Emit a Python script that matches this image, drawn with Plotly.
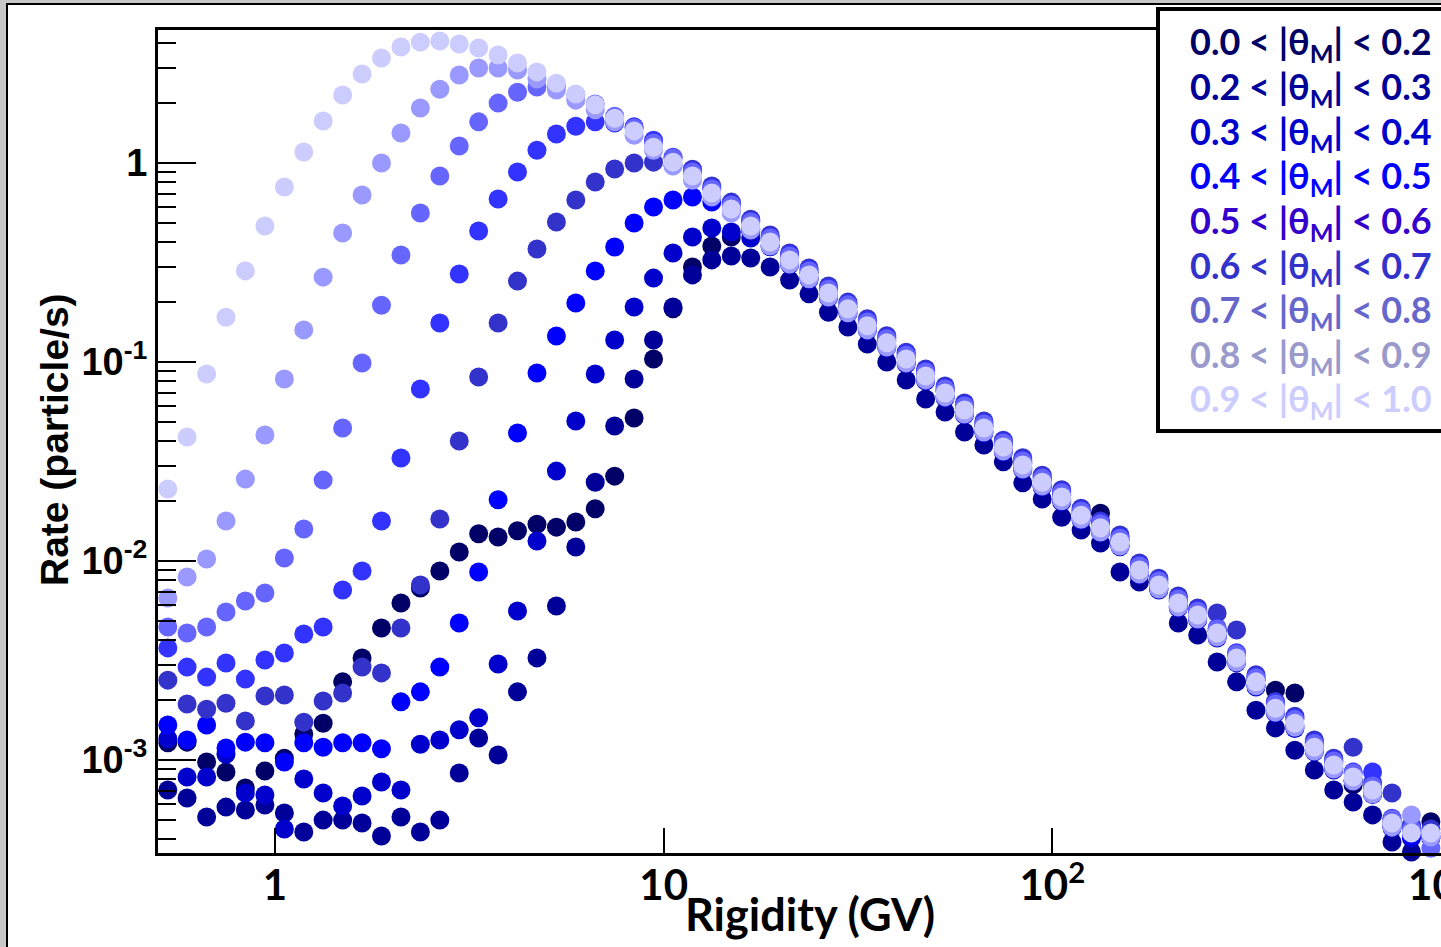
import numpy as np
import plotly.graph_objects as go

# rigidity bin centres (GV)
rigidity = [0.530, 0.594, 0.667, 0.748, 0.839, 0.942, 1.057, 1.186, 1.330, 1.493,
            1.675, 1.879, 2.109, 2.366, 2.655, 2.979, 3.342, 3.750, 4.207, 4.721,
            5.297, 5.942, 6.667, 7.480, 8.393, 9.417, 10.57, 11.86, 13.30, 14.93,
            16.75, 18.79, 21.09, 23.66, 26.55, 29.79, 33.42, 37.50, 42.07, 47.21,
            52.97, 59.42, 66.67, 74.80, 83.93, 94.17, 105.7, 118.6, 133.0, 149.3,
            167.5, 187.9, 210.9, 236.6, 265.5, 297.9, 334.2, 375.0, 420.7, 472.1,
            529.7, 594.2, 666.7, 748.0, 839.3, 941.7]

# rates (particle/s) per |theta_M| band
rate_00_02 = [0.00122, 0.00123, 0.000977, 0.00087, 0.000723, 0.00088, 0.00102, 0.00135, 0.00153, 0.00247,
              0.00326, 0.00461, 0.00615, 0.00731, 0.00891, 0.0111, 0.0137, 0.0132, 0.0142, 0.0153,
              0.0148, 0.0157, 0.0183, 0.0267, 0.0523, 0.1035, 0.185, 0.30, 0.383, 0.425,
              0.45, 0.41, 0.333, 0.28, 0.226, 0.189, 0.155, 0.1275, 0.1055, 0.0868,
              0.0713, 0.0585, 0.0475, 0.0381, 0.031, 0.0254, 0.0214, 0.0173, 0.0174, 0.0127,
              0.0092, 0.0077, 0.00627, 0.00546, 0.00444, 0.00333, 0.00252, 0.00224, 0.00217, 0.00118,
              0.00096, 0.00075, 0.00072, 0.00049, 0.00044, 0.00049]
rate_02_03 = [0.000707, 0.000644, 0.000517, 0.00058, 0.000561, 0.000594, 0.000542, 0.000435, 0.000499, 0.000499,
              0.000482, 0.000415, 0.000517, 0.000435, 0.000499, 0.000861, 0.00129, 0.00106, 0.0022, 0.00326,
              0.00594, 0.01175, 0.0249, 0.0477, 0.0822, 0.129, 0.189, 0.274, 0.326, 0.341,
              0.333, 0.30, 0.258, 0.22, 0.178, 0.15, 0.123, 0.10, 0.0812, 0.0652,
              0.0561, 0.0445, 0.0383, 0.0315, 0.0247, 0.0205, 0.0166, 0.0143, 0.0123, 0.00881,
              0.00784, 0.00723, 0.00488, 0.00425, 0.00311, 0.00247, 0.00178, 0.00145, 0.00112, 0.00089,
              0.000707, 0.000615, 0.00053, 0.000387, 0.000345, 0.000322]
rate_03_04 = [0.00128, 0.000822, 0.000822, 0.00107, 0.000683, 0.000667, 0.00045, 0.000803, 0.000683, 0.000587,
              0.000659, 0.000775, 0.000707, 0.0012, 0.00126, 0.00142, 0.00163, 0.00304, 0.00561, 0.0126,
              0.0283, 0.0505, 0.0871, 0.129, 0.189, 0.264, 0.353, 0.425, 0.471, 0.45,
              0.42, 0.379, 0.308, 0.259, 0.21, 0.175, 0.1435, 0.118, 0.0977, 0.0803,
              0.066, 0.0542, 0.044, 0.0353, 0.0287, 0.0235, 0.0198, 0.016, 0.0139, 0.0118,
              0.0085, 0.00715, 0.0058, 0.00505, 0.0041, 0.00308, 0.00233, 0.00172, 0.00144, 0.0011,
              0.00089, 0.00078, 0.00067, 0.000455, 0.000405, 0.000405]
rate_04_05 = [0.0015, 0.00126, 0.0015, 0.00115, 0.00123, 0.00122, 0.000977, 0.00122, 0.00116, 0.00122,
              0.00122, 0.00114, 0.00196, 0.0022, 0.00293, 0.00488, 0.00881, 0.0203, 0.044, 0.0881,
              0.135, 0.198, 0.287, 0.378, 0.50, 0.601, 0.652, 0.675, 0.637, 0.58,
              0.465, 0.387, 0.315, 0.264, 0.214, 0.179, 0.147, 0.121, 0.10, 0.0821,
              0.0675, 0.0554, 0.045, 0.0361, 0.0293, 0.024, 0.0203, 0.0164, 0.0142, 0.012,
              0.0087, 0.0073, 0.00593, 0.00516, 0.0042, 0.00315, 0.00238, 0.00176, 0.00148, 0.00112,
              0.00091, 0.00079, 0.00068, 0.000465, 0.000415, 0.000415]
rate_05_06 = [0.00252, 0.00191, 0.0018, 0.00193, 0.00157, 0.0021, 0.00212, 0.00155, 0.00198, 0.00217,
              0.00293, 0.00274, 0.00461, 0.00757, 0.01626, 0.0401, 0.0841, 0.157, 0.255, 0.370,
              0.505, 0.652, 0.803, 0.933, 1.00, 1.01, 0.977, 0.93, 0.766, 0.636,
              0.522, 0.435, 0.353, 0.297, 0.241, 0.20, 0.165, 0.1355, 0.112, 0.0922,
              0.0758, 0.0622, 0.0505, 0.0405, 0.033, 0.027, 0.0228, 0.0184, 0.0159, 0.0135,
              0.00977, 0.0082, 0.00667, 0.0058, 0.00548, 0.0045, 0.00268, 0.00197, 0.00166, 0.00126,
              0.00102, 0.00116, 0.00077, 0.000683, 0.00047, 0.00045]
rate_06_07 = [0.00366, 0.00293, 0.00261, 0.00307, 0.00255, 0.00318, 0.00345, 0.0043, 0.00466, 0.00715,
              0.00891, 0.01589, 0.0329, 0.0732, 0.157, 0.277, 0.455, 0.659, 0.901, 1.16,
              1.40, 1.53, 1.61, 1.59, 1.52, 1.30, 1.07, 0.91, 0.75, 0.62,
              0.51, 0.425, 0.346, 0.29, 0.235, 0.196, 0.161, 0.1325, 0.11, 0.09,
              0.074, 0.0608, 0.0494, 0.0396, 0.0322, 0.0264, 0.0223, 0.018, 0.0156, 0.0132,
              0.00955, 0.008, 0.0065, 0.00567, 0.00461, 0.00346, 0.00262, 0.00193, 0.00162, 0.00123,
              0.0010, 0.00087, 0.00087, 0.00051, 0.00046, 0.00043]
rate_07_08 = [0.00466, 0.00435, 0.00466, 0.00554, 0.00629, 0.0069, 0.01035, 0.01449, 0.0255, 0.0466,
              0.0989, 0.193, 0.345, 0.561, 0.86, 1.217, 1.61, 2.00, 2.27, 2.41,
              2.44, 2.20, 1.98, 1.72, 1.50, 1.26, 1.06, 0.90, 0.74, 0.615,
              0.505, 0.42, 0.341, 0.287, 0.232, 0.194, 0.159, 0.131, 0.108, 0.0891,
              0.0732, 0.0601, 0.0488, 0.0392, 0.0318, 0.0261, 0.022, 0.0178, 0.0154, 0.013,
              0.00943, 0.00793, 0.00644, 0.0056, 0.00455, 0.00341, 0.00259, 0.00191, 0.0016, 0.00121,
              0.00099, 0.00086, 0.00074, 0.000505, 0.00045, 0.00036]
rate_08_09 = [0.00652, 0.00831, 0.01023, 0.01589, 0.0258, 0.043, 0.0822, 0.145, 0.267, 0.445,
              0.69, 1.00, 1.415, 1.89, 2.35, 2.77, 3.00, 3.00, 2.93, 2.64,
              2.33, 2.07, 1.85, 1.61, 1.38, 1.16, 0.965, 0.82, 0.675, 0.56,
              0.46, 0.383, 0.311, 0.262, 0.212, 0.177, 0.145, 0.119, 0.099, 0.0813,
              0.0668, 0.0548, 0.0445, 0.0357, 0.029, 0.0238, 0.0201, 0.0162, 0.014, 0.0119,
              0.0086, 0.00723, 0.00587, 0.00511, 0.00415, 0.00311, 0.00236, 0.00174, 0.00146, 0.00111,
              0.0009, 0.000785, 0.000675, 0.00046, 0.00053, 0.00041]
rate_09_10 = [0.023, 0.042, 0.0871, 0.168, 0.287, 0.482, 0.757, 1.136, 1.626, 2.196,
              2.80, 3.37, 3.83, 4.05, 4.10, 3.96, 3.78, 3.49, 3.18, 2.87,
              2.52, 2.22, 1.96, 1.68, 1.45, 1.20, 1.01, 0.86, 0.707, 0.587,
              0.482, 0.401, 0.326, 0.274, 0.222, 0.185, 0.152, 0.125, 0.1035, 0.0851,
              0.0699, 0.0574, 0.0466, 0.0374, 0.0304, 0.0249, 0.021, 0.017, 0.0147, 0.01245,
              0.00901, 0.00757, 0.00615, 0.00535, 0.00435, 0.00326, 0.00247, 0.00182, 0.00153, 0.00116,
              0.000944, 0.000822, 0.000707, 0.000482, 0.00043, 0.00043]

band_labels = ["0.0 &lt; |θ<sub>M</sub>| &lt; 0.2", "0.2 &lt; |θ<sub>M</sub>| &lt; 0.3",
               "0.3 &lt; |θ<sub>M</sub>| &lt; 0.4", "0.4 &lt; |θ<sub>M</sub>| &lt; 0.5",
               "0.5 &lt; |θ<sub>M</sub>| &lt; 0.6", "0.6 &lt; |θ<sub>M</sub>| &lt; 0.7",
               "0.7 &lt; |θ<sub>M</sub>| &lt; 0.8", "0.8 &lt; |θ<sub>M</sub>| &lt; 0.9",
               "0.9 &lt; |θ<sub>M</sub>| &lt; 1.0"]
band_rates = [rate_00_02, rate_02_03, rate_03_04, rate_04_05, rate_05_06,
              rate_06_07, rate_07_08, rate_08_09, rate_09_10]
marker_colors = ["#000066", "#000099", "#0000cc", "#0000ff", "#3333cc",
                 "#3333ff", "#6666ff", "#9999ff", "#ccccff"]
label_colors = ["#000066", "#000099", "#0000cc", "#0000ff", "#3300cc",
                "#3333cc", "#6666cc", "#9999cc", "#ccccff"]

x_tickvals = [1, 10, 100, 1000]
x_ticktext = ["1", "10", "10<sup>2</sup>", "10<sup>3</sup>"]
y_tickvals = [1e-3, 1e-2, 1e-1, 1]
y_ticktext = ["10<sup>-3</sup>", "10<sup>-2</sup>", "10<sup>-1</sup>", "1"]
y_minor = [m * 10.0 ** e for e in range(-4, 1) for m in range(2, 10)]

W, H = 1441, 947
L, R, T, B = 158, 1441, 30, 853


def px(x):
    return (x - L) / (R - L)


def py(y):
    return (B - y) / (B - T)


fig = go.Figure()
for rates, col in zip(band_rates, marker_colors):
    fig.add_trace(go.Scatter(x=rigidity, y=rates, mode="markers",
                             marker=dict(color=col, size=19, line=dict(width=0)),
                             cliponaxis=False, showlegend=False))

shapes = [
    dict(type="rect", xref="paper", yref="paper", x0=px(7), x1=1.05, y0=py(960), y1=py(4),
         fillcolor="white", line=dict(color="black", width=2), layer="below"),
    dict(type="rect", xref="paper", yref="paper", x0=px(1158), x1=1.05, y0=py(431), y1=py(9),
         fillcolor="white", line=dict(color="black", width=4), layer="above"),
]

annotations = []
for i, (txt, col) in enumerate(zip(band_labels, label_colors)):
    annotations.append(dict(xref="paper", yref="paper", x=px(1188), y=py(44 + 44.6 * i),
                            xanchor="left", yanchor="middle", showarrow=False, text=txt,
                            font=dict(family="Lato", size=36, color=col, weight="bold")))
annotations.append(dict(xref="paper", yref="paper", x=px(810), y=py(914), showarrow=False,
                        text="Rigidity (GV)", xanchor="center", yanchor="middle",
                        font=dict(family="Lato", size=45, color="black", weight="bold")))
annotations.append(dict(xref="paper", yref="paper", x=px(54), y=py(440), showarrow=False,
                        text="Rate (particle/s)", textangle=-90, xanchor="center", yanchor="middle",
                        font=dict(family="Liberation Sans", size=39, color="black", weight="bold")))

fig.update_layout(
    width=W, height=H,
    margin=dict(l=L, r=W - R, t=T, b=H - B, pad=0),
    paper_bgcolor="#c8c8c8", plot_bgcolor="white",
    shapes=shapes, annotations=annotations,
    xaxis=dict(type="log", range=[np.log10(0.5), 3], showgrid=False, zeroline=False,
               showline=True, linecolor="black", linewidth=3, mirror=True,
               ticks="inside", ticklen=25, tickwidth=2, tickcolor="black",
               tickvals=x_tickvals, ticktext=x_ticktext, automargin=False,
               ticklabelstandoff=-6, ticklabeloverflow="allow",
               tickfont=dict(family="Lato", size=42, color="black", weight="bold")),
    yaxis=dict(type="log", range=[np.log10(3.41e-4), np.log10(4.66)], showgrid=False, zeroline=False,
               showline=True, linecolor="black", linewidth=3,
               ticks="inside", ticklen=38, tickwidth=2, tickcolor="black",
               tickvals=y_tickvals, ticktext=y_ticktext, automargin=False,
               tickfont=dict(family="Liberation Sans", size=38, color="black", weight="bold"),
               minor=dict(tickvals=y_minor, ticks="inside", ticklen=18, tickwidth=2,
                          tickcolor="black", showgrid=False)),
)

fig.write_html("out.html", config={"displayModeBar": False},
               post_script="document.body.style.margin='0';")
